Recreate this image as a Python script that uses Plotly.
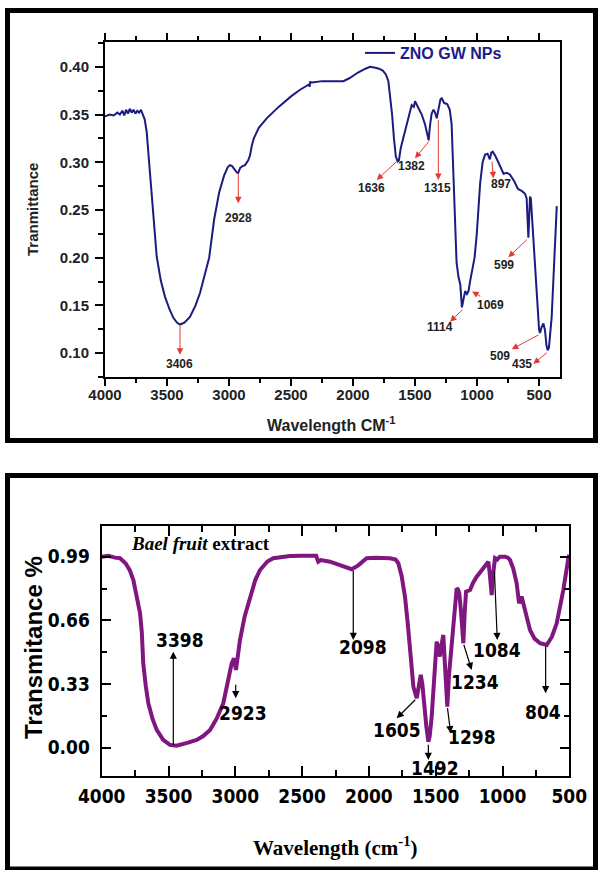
import plotly.graph_objects as go

# ---------------- data ----------------
top_wavenumber = [4000, 3960, 3930, 3900, 3880, 3860, 3845, 3830, 3815, 3800, 3785, 3770, 3755, 3740,
                  3725, 3710, 3695, 3680, 3664, 3635, 3620, 3605, 3583, 3550, 3516, 3480, 3449, 3420,
                  3395, 3360, 3315, 3270, 3234, 3160, 3120, 3080, 3040, 3010, 2992, 2975, 2955, 2935,
                  2925, 2910, 2890, 2871, 2845, 2831, 2815, 2800, 2760, 2696, 2600, 2500, 2427, 2380,
                  2355, 2350, 2345, 2330, 2250, 2150, 2078, 2030, 1960, 1900, 1863, 1820, 1790, 1760,
                  1735, 1715, 1700, 1685, 1670, 1655, 1640, 1630, 1615, 1595, 1580, 1560, 1540, 1527,
                  1510, 1500, 1485, 1470, 1446, 1420, 1400, 1390, 1380, 1366, 1351, 1338, 1325, 1310,
                  1295, 1285, 1265, 1240, 1220, 1205, 1195, 1185, 1177, 1165, 1150, 1135, 1122, 1110,
                  1096, 1082, 1069, 1055, 1043, 1020, 1002, 985, 975, 955, 935, 915, 905, 897, 885,
                  873, 850, 827, 800, 786, 760, 734, 700, 670, 640, 613, 600, 592, 586, 580, 573, 566,
                  559, 545, 532, 515, 500, 492, 480, 465, 452, 440, 430, 420, 410, 398, 385, 370, 357]
top_transmittance = [0.348, 0.350, 0.349, 0.352, 0.350, 0.354, 0.349, 0.355, 0.351, 0.356, 0.352, 0.355,
                     0.351, 0.354, 0.352, 0.355, 0.350, 0.345, 0.332, 0.285, 0.262, 0.239, 0.201, 0.176,
                     0.159, 0.146, 0.137, 0.132, 0.130, 0.132, 0.138, 0.150, 0.163, 0.200, 0.240, 0.268,
                     0.286, 0.295, 0.297, 0.296, 0.292, 0.289, 0.289, 0.294, 0.296, 0.297, 0.302, 0.307,
                     0.318, 0.325, 0.336, 0.346, 0.358, 0.369, 0.376, 0.380, 0.3815, 0.379, 0.384, 0.3835,
                     0.385, 0.385, 0.385, 0.388, 0.394, 0.398, 0.400, 0.399, 0.398, 0.396, 0.392, 0.385,
                     0.370, 0.350, 0.325, 0.306, 0.301, 0.302, 0.315, 0.326, 0.334, 0.345, 0.356, 0.360,
                     0.358, 0.364, 0.360, 0.356, 0.350, 0.340, 0.330, 0.323, 0.338, 0.351, 0.355, 0.352,
                     0.346, 0.357, 0.366, 0.367, 0.362, 0.361, 0.355, 0.340, 0.300, 0.260, 0.235, 0.195,
                     0.180, 0.172, 0.148, 0.158, 0.165, 0.162, 0.165, 0.176, 0.185, 0.200, 0.225, 0.255,
                     0.278, 0.300, 0.308, 0.309, 0.306, 0.303, 0.310, 0.311, 0.306, 0.299, 0.291, 0.288,
                     0.289, 0.287, 0.280, 0.272, 0.270, 0.267, 0.262, 0.240, 0.221, 0.240, 0.264, 0.262,
                     0.248, 0.215, 0.190, 0.150, 0.125, 0.121, 0.127, 0.131, 0.124, 0.108, 0.103, 0.106,
                     0.118, 0.138, 0.175, 0.215, 0.254]

bael_wavenumber = [4000, 3950, 3900, 3863, 3820, 3790, 3763, 3740, 3713, 3700, 3689, 3670, 3651, 3620,
                   3588, 3540, 3489, 3440, 3414, 3360, 3289, 3240, 3189, 3140, 3090, 3060, 3027, 3010,
                   2995, 2980, 2965, 2930, 2890, 2850, 2815, 2760, 2716, 2650, 2591, 2500, 2416, 2395,
                   2379, 2360, 2291, 2200, 2129, 2080, 2017, 1950, 1842, 1800, 1780, 1755, 1730, 1710,
                   1692, 1667, 1642, 1625, 1612, 1600, 1588, 1570, 1555, 1545, 1530, 1510, 1493, 1480,
                   1468, 1455, 1443, 1430, 1413, 1400, 1380, 1365, 1350, 1343, 1333, 1323, 1310, 1293,
                   1283, 1273, 1243, 1220, 1193, 1150, 1106, 1095, 1081, 1070, 1056, 1040, 1020, 981,
                   960, 944, 920, 894, 876, 857, 840, 819, 794, 760, 719, 669, 630, 594, 570, 545, 507, 500]
bael_transmittance = [0.990, 0.995, 0.985, 0.982, 0.955, 0.920, 0.869, 0.800, 0.697, 0.600, 0.437, 0.320,
                      0.230, 0.150, 0.092, 0.040, 0.014, 0.010, 0.014, 0.025, 0.040, 0.060, 0.092, 0.150,
                      0.230, 0.320, 0.437, 0.463, 0.403, 0.480, 0.558, 0.680, 0.783, 0.870, 0.921, 0.965,
                      0.982, 0.990, 0.994, 0.995, 0.999, 0.995, 0.964, 0.972, 0.964, 0.945, 0.925, 0.945,
                      0.982, 0.985, 0.982, 0.975, 0.956, 0.890, 0.783, 0.650, 0.523, 0.316, 0.256, 0.320,
                      0.377, 0.330, 0.230, 0.110, 0.031, 0.060, 0.161, 0.380, 0.549, 0.520, 0.472, 0.540,
                      0.584, 0.420, 0.2125, 0.380, 0.541, 0.650, 0.790, 0.826, 0.820, 0.800, 0.700, 0.541,
                      0.700, 0.809, 0.817, 0.855, 0.886, 0.925, 0.964, 0.900, 0.791, 0.900, 0.982, 0.975,
                      0.990, 0.990, 0.985, 0.973, 0.930, 0.852, 0.748, 0.783, 0.730, 0.679, 0.610, 0.565,
                      0.541, 0.532, 0.575, 0.645, 0.720, 0.817, 0.982, 1.000]

top_x_ticks = [4000, 3500, 3000, 2500, 2000, 1500, 1000, 500]
top_y_ticks = [0.10, 0.15, 0.20, 0.25, 0.30, 0.35, 0.40]
bael_x_ticks = [4000, 3500, 3000, 2500, 2000, 1500, 1000, 500]
bael_y_ticks = [0.00, 0.33, 0.66, 0.99]
bael_y_ticktext = ["0.00", "0.33", "0.66", "0.99"]

# peak labels: (label, curve point x, curve point y, arrow end x, arrow end y, label x, label y)
top_peaks = [
    ("3406", 3395, 0.1303, 3395, 0.0982, 3401, 0.0885),
    ("2928", 2925, 0.290, 2925, 0.257, 2925, 0.2420),
    ("1636", 1635, 0.3023, 1809, 0.2814, 1855, 0.2727),
    ("1382", 1379, 0.3233, 1500, 0.3041, 1527, 0.2960),
    ("1315", 1312, 0.346, 1312, 0.2814, 1320, 0.2733),
    ("897", 881, 0.3023, 868, 0.2832, 809, 0.2772),
    ("599", 586, 0.2204, 748, 0.2005, 780, 0.1924),
    ("1114", 1105, 0.147, 1218, 0.133, 1298, 0.1272),
    ("509", 492, 0.1199, 720, 0.1042, 815, 0.0975),
    ("435", 425, 0.1017, 546, 0.0888, 640, 0.0885),
]
# 1069: arrow points back to the curve
top_peak_reverse = [("1069", 962, 0.1586, 1040, 0.1647, 895, 0.150)]

bael_peaks = [
    ("3398", 3464, 0.004, 3464, 0.4976, 3414, 0.558),
    ("2923", 2997, 0.334, 2997, 0.256, 2940, 0.178),
    ("2098", 2117, 0.9246, 2117, 0.558, 2042, 0.5235),
    ("1605", 1642, 0.256, 1792, 0.152, 1787, 0.0917),
    ("1492", 1555, 0.0228, 1555, -0.0638, 1505, -0.107),
    ("1298", 1413, 0.2125, 1388, 0.0746, 1226, 0.054),
    ("1234", 1293, 0.541, 1231, 0.403, 1204, 0.342),
    ("1084", 1061, 0.921, 1039, 0.558, 1041, 0.506),
    ("804", 677, 0.532, 677, 0.282, 697, 0.187),
]

# ---------------- styling ----------------
W, H = 600, 870
SANS = "Liberation Sans, Arial, sans-serif"
NARROW = "DejaVu Sans Condensed, Liberation Sans, sans-serif"
SERIF = "Liberation Serif, Times New Roman, serif"
NAVY = "#1b1b80"
PURPLE = "#80167f"
RED = "#e23a32"


def px(x):
    return x / W


def py(y):
    return 1 - y / H


fig = go.Figure()
fig.add_trace(go.Scatter(x=top_wavenumber, y=top_transmittance, mode="lines",
                         line=dict(color=NAVY, width=2), name="ZNO GW NPs",
                         xaxis="x", yaxis="y", showlegend=True))
fig.add_trace(go.Scatter(x=bael_wavenumber, y=bael_transmittance, mode="lines",
                         line=dict(color=PURPLE, width=4), name="Bael fruit extract",
                         xaxis="x2", yaxis="y2", showlegend=False))

ann = []
for lab, cx, cy, hx, hy, lx, ly in top_peaks + top_peak_reverse:
    ann.append(dict(x=hx, y=hy, ax=cx, ay=cy, xref="x", yref="y", axref="x", ayref="y",
                    text="", showarrow=True, arrowhead=2, arrowsize=1.3, arrowwidth=1,
                    arrowcolor=RED))
    ann.append(dict(x=lx, y=ly, xref="x", yref="y", text=lab, showarrow=False,
                    xanchor="center", yanchor="middle",
                    font=dict(family=SANS, size=12, color="#222222", weight="bold")))
for lab, cx, cy, hx, hy, lx, ly in bael_peaks:
    ann.append(dict(x=hx, y=hy, ax=cx, ay=cy, xref="x2", yref="y2", axref="x2", ayref="y2",
                    text="", showarrow=True, arrowhead=2, arrowsize=1.2, arrowwidth=1.2,
                    arrowcolor="black"))
    ann.append(dict(x=lx, y=ly, xref="x2", yref="y2", text=lab, showarrow=False,
                    xanchor="center", yanchor="middle",
                    font=dict(family=NARROW, size=19, color="black", weight="bold")))

# axis titles and panel text
ann += [
    dict(x=px(32), y=py(210), xref="paper", yref="paper", text="Tranmittance", textangle=-90,
         xanchor="center", yanchor="middle", showarrow=False,
         font=dict(family=SANS, size=15, color="#222", weight="bold")),
    dict(x=px(331), y=py(424), xref="paper", yref="paper", text="Wavelength CM<sup>-1</sup>",
         xanchor="center", yanchor="middle", showarrow=False,
         font=dict(family=SANS, size=16, color="#222", weight="bold")),
    dict(x=px(33), y=py(648), xref="paper", yref="paper", text="Transmitance %", textangle=-90,
         xanchor="center", yanchor="middle", showarrow=False,
         font=dict(family=SANS, size=24, color="black", weight="bold")),
    dict(x=px(335), y=py(846), xref="paper", yref="paper", text="<b>Wavelength (cm<sup>-1</sup>)</b>",
         xanchor="center", yanchor="middle", showarrow=False,
         font=dict(family=SERIF, size=21, color="black")),
    dict(x=px(200), y=py(543), xref="paper", yref="paper", text="<b><i>Bael fruit</i> extract</b>",
         xanchor="center", yanchor="middle", showarrow=False,
         font=dict(family=SERIF, size=19, color="black")),
]

shapes = [
    dict(type="rect", xref="paper", yref="paper", x0=px(7.5), x1=px(595.5), y0=py(440.5), y1=py(10.5),
         line=dict(color="black", width=5)),
    dict(type="rect", xref="paper", yref="paper", x0=px(7.5), x1=px(595.5), y0=py(869), y1=py(475.5),
         line=dict(color="black", width=5)),
]

fig.update_layout(
    width=W, height=H, margin=dict(l=0, r=0, t=0, b=0, autoexpand=False),
    paper_bgcolor="white", plot_bgcolor="white",
    annotations=ann, shapes=shapes,
    legend=dict(x=px(360), y=py(53), xanchor="left", yanchor="middle", bgcolor="rgba(0,0,0,0)",
                font=dict(family=SANS, size=16, color="#1b1b8a", weight="bold")),
    xaxis=dict(domain=[px(105), px(560)], anchor="y", range=[4000, 331], tickvals=top_x_ticks,
               ticks="outside", ticklen=7, tickwidth=1.5, tickcolor="black", showline=True,
               linewidth=2, linecolor="black", mirror="ticks", showgrid=False, zeroline=False,
               automargin=False,
               minor=dict(dtick=250, tick0=0, ticks="outside", ticklen=4, tickwidth=1.5, tickcolor="black"),
               tickfont=dict(family=SANS, size=15, color="#222", weight="bold"), ticklabelstandoff=-4),
    yaxis=dict(domain=[py(377), py(42)], anchor="x", range=[0.075, 0.426], tickvals=top_y_ticks,
               tickformat=".2f", ticks="outside", ticklen=8, tickwidth=1.5, tickcolor="black",
               showline=True, linewidth=2, linecolor="black", mirror=True, showgrid=False,
               zeroline=False, automargin=False,
               minor=dict(dtick=0.025, tick0=0, ticks="outside", ticklen=5, tickwidth=1.5, tickcolor="black"),
               tickfont=dict(family=SANS, size=15, color="#222", weight="bold"), ticklabelstandoff=3),
    xaxis2=dict(domain=[px(101.7), px(569.3)], anchor="y2", range=[4000, 500], tickvals=bael_x_ticks,
                ticks="inside", ticklen=10, tickwidth=2, tickcolor="black", showline=True,
                linewidth=2, linecolor="black", mirror="ticks", showgrid=False, zeroline=False,
                automargin=False,
                minor=dict(dtick=250, tick0=0, ticks="inside", ticklen=6, tickwidth=2, tickcolor="black"),
                tickfont=dict(family=NARROW, size=19, color="black", weight="bold"), ticklabelstandoff=2),
    yaxis2=dict(domain=[py(776), py(526)], anchor="x2", range=[-0.147, 1.149], tickvals=bael_y_ticks,
                ticktext=bael_y_ticktext, ticks="inside", ticklen=9, tickwidth=2, tickcolor="black",
                showline=True, linewidth=2, linecolor="black", mirror="ticks", showgrid=False,
                zeroline=False, automargin=False,
                minor=dict(tickvals=[0.165, 0.495, 0.825], ticks="inside", ticklen=5, tickwidth=2,
                           tickcolor="black"),
                tickfont=dict(family=NARROW, size=19, color="black", weight="bold"), ticklabelstandoff=6),
)

fig.write_html("out.html")
